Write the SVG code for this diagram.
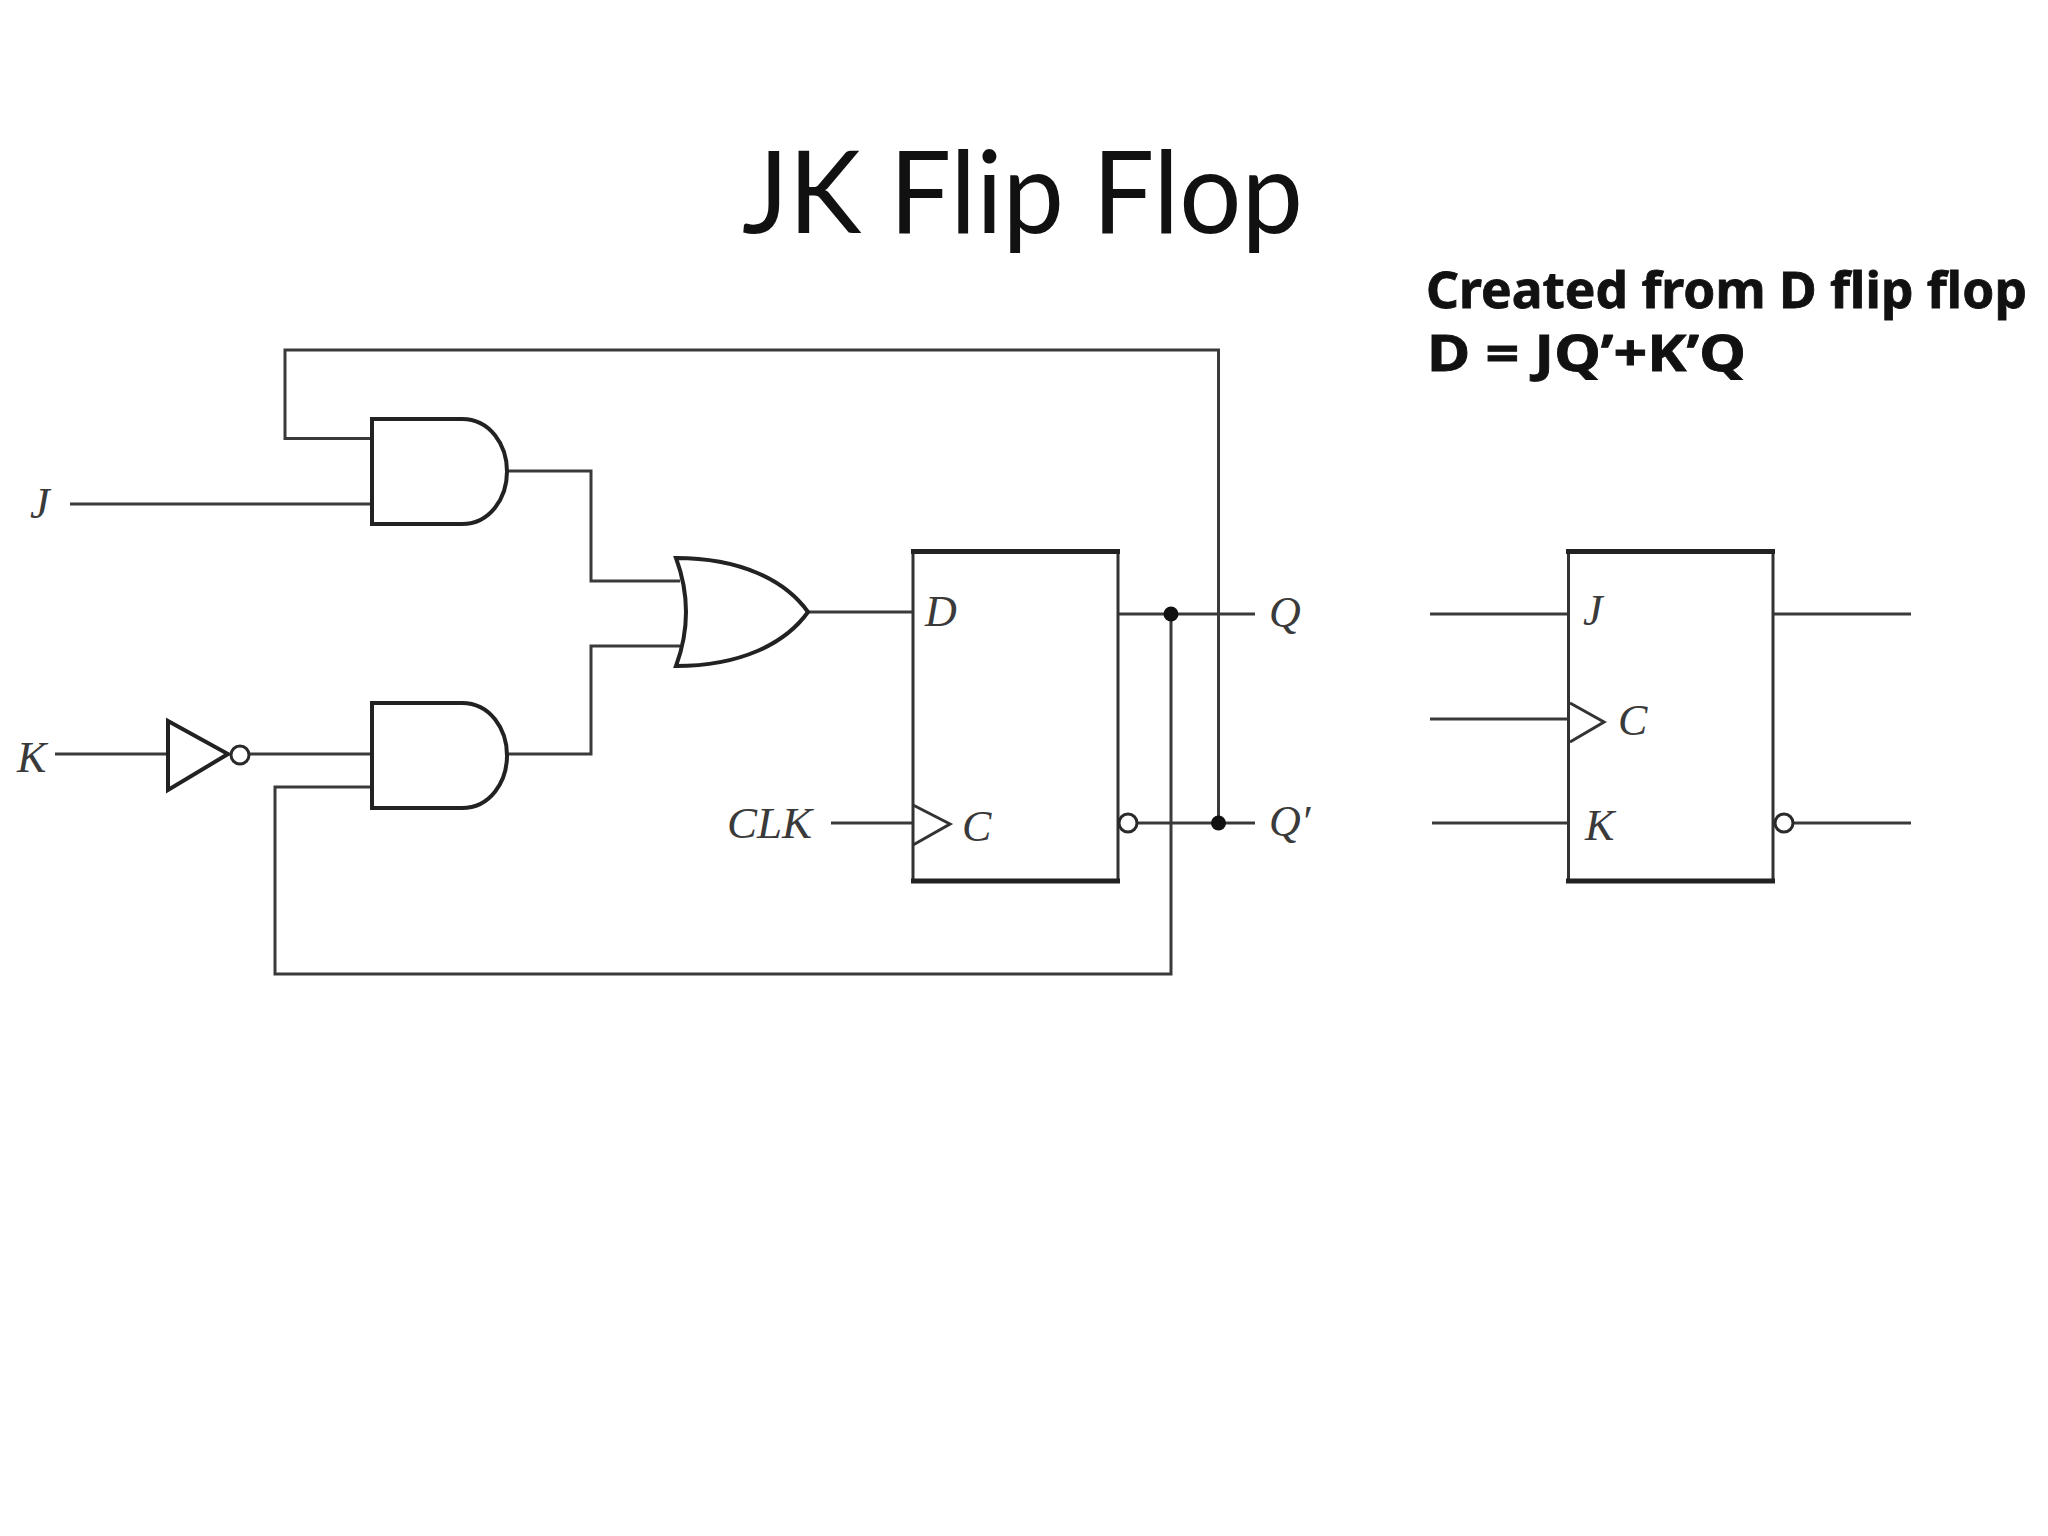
<svg xmlns="http://www.w3.org/2000/svg" width="2048" height="1536" viewBox="0 0 2048 1536">
<style>
.w{fill:none;stroke:#3a3a3a;stroke-width:3}
.g{fill:none;stroke:#222;stroke-width:4;stroke-linejoin:miter}
.t{fill:none;stroke:#222;stroke-width:5}
.c{fill:none;stroke:#333;stroke-width:3}
.b{fill:#fff;stroke:#2a2a2a;stroke-width:3}
.d{fill:#111}
.l{font-family:"Liberation Serif",serif;font-style:italic;font-size:44px;fill:#3a3a3a}
.h{font-family:Lato,"Noto Sans",sans-serif;fill:#111}
.s{font-family:"Noto Sans",sans-serif;font-weight:700;font-size:50px;fill:#111;stroke:#111;stroke-width:.8}
</style>
<rect width="2048" height="1536" fill="#fff"/>
<g id="connectors">
<path class="w" d="M372 438.500H285V350H1218.500V823"/>
<path class="w" d="M70 504H372"/>
<path class="w" d="M507 471H591V581H680"/>
<path class="w" d="M507 754H591V646H680"/>
<path class="w" d="M55 754H168"/>
<path class="w" d="M250 754H372"/>
<path class="w" d="M372 787H275V974H1171V614"/>
<path class="w" d="M808 612H913"/>
<path class="w" d="M831 823H913"/>
<path class="w" d="M1118 614H1255"/>
<path class="w" d="M1137 823H1255"/>
<path class="w" d="M1430 614H1568"/>
<path class="w" d="M1430 719H1568"/>
<path class="w" d="M1432 823H1568"/>
<path class="w" d="M1773 614H1911"/>
<path class="w" d="M1793 823H1911"/>
<circle class="d" cx="1171" cy="614" r="7.500"/>
<circle class="d" cx="1218.500" cy="823" r="7.500"/>
</g>
<g id="title"><text class="h" x="742" y="233" font-size="114" textLength="561" lengthAdjust="spacingAndGlyphs">JK Flip Flop</text></g>
<g id="note">
<text class="s" x="1426" y="308" textLength="601" lengthAdjust="spacingAndGlyphs">Created from D flip flop</text>
<text class="s" x="1427" y="371" textLength="319" lengthAdjust="spacingAndGlyphs">D = JQ’+K’Q</text>
</g>
<g id="input-j"><text class="l" x="30" y="518">J</text></g>
<g id="input-k"><text class="l" x="17" y="772">K</text></g>
<g id="input-clk"><text class="l" x="727" y="838" textLength="85" lengthAdjust="spacingAndGlyphs">CLK</text></g>
<g id="and-top"><path class="g" d="M372 419H462C490 419 507 445 507 471.500C507 498 490 524 462 524H372Z"/></g>
<g id="and-bottom"><path class="g" d="M372 703H462C490 703 507 729 507 755.500C507 782 490 808 462 808H372Z"/></g>
<g id="inverter"><path class="g" d="M168 721L228 754L168 790Z"/><circle class="b" cx="240" cy="755" r="9"/></g>
<g id="or-gate"><path class="g" d="M676 558C740 558 785 580 808 612C785 644 740 666 676 666Q696 612 676 558Z"/></g>
<g id="d-flip-flop">
<rect class="c" x="913" y="551" width="205" height="330"/>
<path class="t" d="M911 551.500H1120M911 881H1120"/>
<path class="c" d="M913 805L950 824L913 845"/>
<circle class="b" cx="1128" cy="823" r="9"/>
<text class="l" x="925" y="626">D</text>
<text class="l" x="962" y="841">C</text>
</g>
<g id="output-q"><text class="l" x="1269" y="627">Q</text></g>
<g id="output-q-prime"><text class="l" x="1269" y="836">Q′</text></g>
<g id="jk-flip-flop">
<rect class="c" x="1568.500" y="551" width="204.500" height="330"/>
<path class="t" d="M1566 551.500H1775M1566 881H1775"/>
<path class="c" d="M1570 703L1604 722L1570 742"/>
<circle class="b" cx="1784" cy="823" r="9"/>
<text class="l" x="1583" y="625">J</text>
<text class="l" x="1618" y="735">C</text>
<text class="l" x="1585" y="840">K</text>
</g>
</svg>
